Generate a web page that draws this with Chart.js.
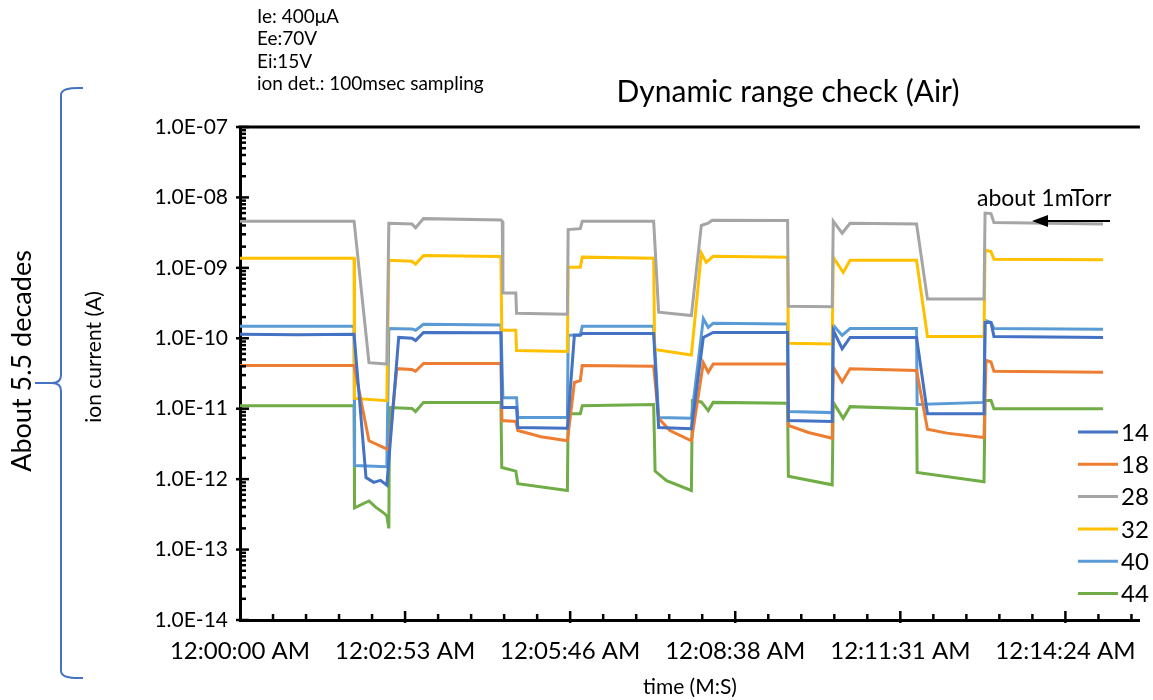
<!DOCTYPE html>
<html>
<head>
<meta charset="utf-8">
<script src="https://cdn.jsdelivr.net/npm/chart.js@4"></script>
<style>
  body { margin: 0; background: #fff; }
  canvas { display: block; }
</style>
</head>
<body>
<canvas id="chart" width="1153" height="700"></canvas>
<script>
// time in seconds after 12:00:00 AM, ion current in A
const t14 = [0, 60, 119.4, 131.9, 140, 147, 153.7, 166.1, 180, 183.8, 192.1, 273.1, 274.2, 289.5, 290.8, 342.7, 350.0, 356.2, 358.3, 433.0, 438.2, 472.5, 485.0, 495.3, 573.2, 574.0, 619.9, 621.0, 630.3, 638.6, 708.2, 719.6, 778.8, 779.9, 786.1, 789.2, 903.4];
const i14 = [1.14e-10, 1.12e-10, 1.14e-10, 1.05e-12, 9.0e-13, 9.6e-13, 8.2e-13, 1.03e-10, 1.0e-10, 9.3e-11, 1.21e-10, 1.2e-10, 1.04e-11, 1.04e-11, 5.4e-12, 5.3e-12, 1.1e-10, 1.1e-10, 1.17e-10, 1.17e-10, 5.4e-12, 5.2e-12, 1.03e-10, 1.21e-10, 1.21e-10, 6.8e-12, 6.6e-12, 1.3e-10, 7.1e-11, 1.03e-10, 1.03e-10, 8.5e-12, 8.5e-12, 1.68e-10, 1.68e-10, 1.06e-10, 1.03e-10];

const t18 = [0, 119.4, 135.0, 155.8, 164.1, 180, 183.8, 192.1, 273.1, 274.2, 288.7, 290.8, 315, 342.7, 350.0, 356.2, 358.3, 433.0, 438.2, 450, 472.5, 485.0, 490.1, 495.3, 573.2, 574.0, 595, 619.9, 621.0, 630.3, 638.6, 708.2, 719.6, 740, 778.8, 780.9, 786.1, 789.2, 903.4];
const i18 = [4.1e-11, 4.1e-11, 3.5e-12, 2.6e-12, 3.7e-11, 3.6e-11, 3.4e-11, 4.4e-11, 4.4e-11, 6.8e-12, 6.6e-12, 4.9e-12, 4.0e-12, 3.5e-12, 2.36e-11, 2.5e-11, 4.1e-11, 4.0e-11, 7.3e-12, 4.9e-12, 3.5e-12, 4.5e-11, 3.3e-11, 4.3e-11, 4.3e-11, 5.8e-12, 4.6e-12, 3.8e-12, 3.9e-11, 2.4e-11, 3.7e-11, 3.5e-11, 5.1e-12, 4.5e-12, 3.9e-12, 4.85e-11, 4.6e-11, 3.4e-11, 3.3e-11];

const t28 = [0, 119.4, 135.0, 153.7, 155.8, 180, 183.8, 192.1, 273.1, 274.5, 275.2, 288.7, 289.5, 342.7, 343.5, 356.2, 358.3, 433.0, 438.2, 472.5, 482.9, 490, 494.3, 573.2, 574.0, 619.9, 621.0, 630.3, 638.6, 708.2, 719.6, 778.8, 779.9, 786.1, 789.2, 903.4];
const i28 = [4.6e-9, 4.6e-9, 4.5e-11, 4.3e-11, 4.3e-9, 4.2e-9, 3.7e-9, 5.0e-9, 4.8e-9, 4.6e-9, 4.4e-10, 4.4e-10, 2.26e-10, 2.2e-10, 3.5e-9, 3.6e-9, 4.6e-9, 4.6e-9, 2.35e-10, 2.1e-10, 4.0e-9, 4.3e-9, 4.75e-9, 4.7e-9, 2.84e-10, 2.8e-10, 4.6e-9, 3.1e-9, 4.3e-9, 4.2e-9, 3.6e-10, 3.6e-10, 6.0e-9, 5.9e-9, 4.4e-9, 4.2e-9];

const t32 = [0, 119.4, 119.9, 153.7, 155.8, 180, 183.8, 192.1, 273.1, 274.0, 288.7, 289.5, 342.7, 343.5, 356.2, 358.3, 433.0, 434.0, 472.5, 482.9, 488.1, 495.3, 573.2, 574.0, 619.9, 621.0, 631.4, 638.6, 708.2, 719.6, 778.8, 779.9, 786.1, 789.2, 903.4];
const i32 = [1.37e-9, 1.37e-9, 1.4e-11, 1.3e-11, 1.28e-9, 1.24e-9, 1.13e-9, 1.5e-9, 1.45e-9, 1.3e-10, 1.3e-10, 6.7e-11, 6.5e-11, 1.02e-9, 1.02e-9, 1.42e-9, 1.37e-9, 6.95e-11, 5.8e-11, 1.61e-9, 1.2e-9, 1.46e-9, 1.42e-9, 8.5e-11, 8.3e-11, 1.42e-9, 8.6e-10, 1.28e-9, 1.28e-9, 1.06e-10, 1.06e-10, 1.78e-9, 1.7e-9, 1.33e-9, 1.3e-9];

const t40 = [0, 119.4, 119.9, 153.7, 155.8, 180, 183.8, 192.1, 273.1, 275.2, 289.5, 290.8, 342.7, 343.5, 356.2, 358.3, 433.0, 438.2, 472.5, 485.0, 490.1, 495.3, 573.2, 574.0, 619.9, 621.0, 630.3, 638.6, 708.2, 708.8, 778.8, 779.9, 786.1, 789.2, 903.4];
const i40 = [1.48e-10, 1.48e-10, 1.56e-12, 1.5e-12, 1.38e-10, 1.36e-10, 1.3e-10, 1.58e-10, 1.55e-10, 1.43e-11, 1.43e-11, 7.5e-12, 7.5e-12, 1.1e-10, 1.12e-10, 1.48e-10, 1.48e-10, 7.5e-12, 7.3e-12, 1.9e-10, 1.43e-10, 1.63e-10, 1.6e-10, 9.1e-12, 8.8e-12, 1.53e-10, 1.1e-10, 1.38e-10, 1.38e-10, 1.15e-11, 1.23e-11, 1.8e-10, 1.68e-10, 1.38e-10, 1.34e-10];

const t44 = [0, 119.4, 119.9, 135.0, 142, 150.6, 153.7, 155.8, 156.5, 180, 183.8, 192.1, 273.1, 274.0, 288.7, 290.8, 342.7, 343.5, 356.2, 358.3, 433.0, 434.5, 446.5, 472.5, 473.5, 482.9, 490.1, 495.3, 573.2, 574.0, 619.9, 621.0, 631.4, 638.6, 708.2, 708.8, 778.8, 779.9, 786.1, 789.2, 903.4];
const i44 = [1.1e-11, 1.1e-11, 3.9e-13, 4.9e-13, 4.0e-13, 3.3e-13, 3.0e-13, 2.0e-13, 1.04e-11, 1.01e-11, 9.1e-12, 1.23e-11, 1.23e-11, 1.46e-12, 1.3e-12, 8.6e-13, 6.9e-13, 8.5e-12, 8.5e-12, 1.1e-11, 1.15e-11, 1.3e-12, 9.5e-13, 6.9e-13, 1.3e-11, 1.25e-11, 9.4e-12, 1.23e-11, 1.2e-11, 1.1e-12, 8.3e-13, 1.23e-11, 7.3e-12, 1.07e-11, 1.0e-11, 1.24e-12, 9.2e-13, 1.31e-11, 1.31e-11, 1.0e-11, 1.0e-11];

const seriesNames = ['14', '18', '28', '32', '40', '44'];
const seriesTimes = [t14, t18, t28, t32, t40, t44];
const seriesValues = [i14, i18, i28, i32, i40, i44];
const seriesColors = ['#4472C4', '#ED7D31', '#A5A5A5', '#FFC000', '#5B9BD5', '#70AD47'];

// axis ticks
const timeTickSeconds = [0, 172.8, 345.6, 518.4, 691.2, 864];
const timeTickLabels = ['12:00:00 AM', '12:02:53 AM', '12:05:46 AM', '12:08:38 AM', '12:11:31 AM', '12:14:24 AM'];
const currentTicks = [1e-14, 1e-13, 1e-12, 1e-11, 1e-10, 1e-9, 1e-8, 1e-7];
const currentTickLabels = ['1.0E-14', '1.0E-13', '1.0E-12', '1.0E-11', '1.0E-10', '1.0E-09', '1.0E-08', '1.0E-07'];
const timeMax = 942;
const minorTimeStep = 34.56;

const FONT = 'Lato, "Open Sans", sans-serif';

// inward tick marks, top frame line, legend and the notes round the chart
const decorations = {
  id: 'decorations',
  afterDraw(chart) {
    const { ctx, chartArea: a, scales: { x, y } } = chart;
    ctx.save();
    ctx.strokeStyle = '#000';
    ctx.lineWidth = 3;
    ctx.beginPath();
    ctx.moveTo(a.left - 1.5, a.top);
    ctx.lineTo(a.right, a.top);
    ctx.stroke();

    // log minor ticks on the left axis
    ctx.lineWidth = 2.5;
    for (let e = -14; e <= -7; e++) {
      for (let d = 1; d <= 9; d++) {
        const v = d * Math.pow(10, e);
        if (v > 1.0001e-7) break;
        const py = y.getPixelForValue(v);
        ctx.beginPath();
        ctx.moveTo(a.left - (d === 1 ? 4 : 0), py);
        ctx.lineTo(a.left + (d === 1 ? 9 : 6), py);
        ctx.stroke();
      }
    }
    // ticks on the time axis
    for (let k = 1; k * minorTimeStep <= x.max; k++) {
      const px = x.getPixelForValue(k * minorTimeStep);
      const major = k % 5 === 0;
      ctx.beginPath();
      ctx.moveTo(px, a.bottom + (major ? 3 : 0));
      ctx.lineTo(px, a.bottom - (major ? 9 : 6));
      ctx.stroke();
    }

    // legend inside the plot
    ctx.font = '24px ' + FONT;
    ctx.textBaseline = 'middle';
    ctx.textAlign = 'left';
    chart.data.datasets.forEach((ds, i) => {
      const ly = 432 + i * 32.3;
      ctx.strokeStyle = ds.borderColor;
      ctx.lineWidth = 3;
      ctx.beginPath();
      ctx.moveTo(1078, ly);
      ctx.lineTo(1118, ly);
      ctx.stroke();
      ctx.fillStyle = '#000';
      ctx.fillText(ds.label, 1121, ly + 1);
    });

    // title and notes
    ctx.fillStyle = '#000';
    ctx.textAlign = 'center';
    ctx.font = '30px ' + FONT;
    ctx.fillText('Dynamic range check (Air)', 788, 92);

    ctx.textAlign = 'left';
    ctx.font = '19px ' + FONT;
    ['Ie: 400μA', 'Ee:70V', 'Ei:15V', 'ion det.: 100msec sampling'].forEach((s, i) => {
      ctx.fillText(s, 257, 17 + i * 22.3);
    });

    ctx.font = '23px ' + FONT;
    ctx.fillText('about 1mTorr', 977, 199);
    ctx.strokeStyle = '#000';
    ctx.lineWidth = 2;
    ctx.beginPath();
    ctx.moveTo(1110, 221);
    ctx.lineTo(1044, 221);
    ctx.stroke();
    ctx.beginPath();
    ctx.moveTo(1032, 221);
    ctx.lineTo(1048, 215);
    ctx.lineTo(1048, 227);
    ctx.closePath();
    ctx.fill();

    // y axis title
    ctx.save();
    ctx.translate(94, 357);
    ctx.rotate(-Math.PI / 2);
    ctx.textAlign = 'center';
    ctx.font = '21px ' + FONT;
    ctx.fillText('ion current (A)', 0, 0);
    ctx.restore();

    // brace and its note
    ctx.strokeStyle = '#4472C4';
    ctx.lineWidth = 2;
    ctx.beginPath();
    ctx.moveTo(83, 88);
    ctx.quadraticCurveTo(61, 87, 61, 95);
    ctx.lineTo(61, 375);
    ctx.quadraticCurveTo(61, 383, 52, 383);
    ctx.lineTo(35, 383);
    ctx.moveTo(52, 383);
    ctx.quadraticCurveTo(61, 383, 61, 391);
    ctx.lineTo(61, 671);
    ctx.quadraticCurveTo(61, 679, 83, 678);
    ctx.stroke();

    ctx.save();
    ctx.translate(22, 361);
    ctx.rotate(-Math.PI / 2);
    ctx.textAlign = 'center';
    ctx.fillStyle = '#000';
    ctx.font = '27px ' + FONT;
    ctx.fillText('About 5.5 decades', 0, 0);
    ctx.restore();

    ctx.restore();
  }
};

function draw() {
  new Chart(document.getElementById('chart'), {
    type: 'line',
    data: {
      datasets: seriesNames.map((name, k) => ({
        label: name,
        data: seriesTimes[k].map((t, i) => ({ x: t, y: seriesValues[k][i] })),
        borderColor: seriesColors[k],
        backgroundColor: seriesColors[k],
        borderWidth: 3,
        pointRadius: 0,
        tension: 0,
        fill: false
      }))
    },
    options: {
      responsive: false,
      animation: false,
      layout: { padding: { top: 127, right: 6, left: 0, bottom: 0 } },
      plugins: { legend: { display: false }, tooltip: { enabled: false } },
      scales: {
        x: {
          type: 'linear',
          min: 0,
          max: timeMax,
          grid: { display: false, drawTicks: false },
          border: { display: true, color: '#000', width: 3 },
          afterBuildTicks: s => { s.ticks = timeTickSeconds.map(v => ({ value: v })); },
          afterFit: s => { s.height = 80; },
          ticks: {
            autoSkip: false, maxRotation: 0, padding: 17, color: '#000',
            font: { family: FONT, size: 24 },
            callback: (v, i) => timeTickLabels[i]
          },
          title: {
            display: true, text: 'time (M:S)', color: '#000',
            font: { family: FONT, size: 21 }, padding: { top: 0, bottom: 0 }
          }
        },
        y: {
          type: 'logarithmic',
          min: 1e-14,
          max: 1e-7,
          grid: { display: false, drawTicks: false },
          border: { display: true, color: '#000', width: 3 },
          afterBuildTicks: s => { s.ticks = currentTicks.map(v => ({ value: v })); },
          afterFit: s => { s.width = 240; },
          ticks: {
            autoSkip: false, padding: 12, color: '#000',
            font: { family: FONT, size: 21 },
            callback: (v, i) => currentTickLabels[i]
          }
        }
      }
    },
    plugins: [decorations]
  });
}

document.fonts.load('20px Lato').then(draw, draw);
</script>
</body>
</html>
